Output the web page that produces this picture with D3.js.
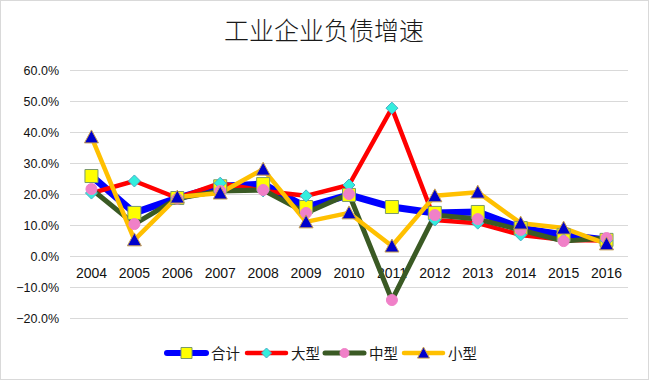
<!DOCTYPE html>
<html><head><meta charset="utf-8">
<script src="https://cdn.jsdelivr.net/npm/d3@7"></script>
<style>
html,body{margin:0;padding:0;background:#fff;}
svg{display:block;}
</style></head>
<body>
<svg id="chart" width="649" height="380"></svg>
<script>
const title = "工业企业负债增速";
const years = ["2004","2005","2006","2007","2008","2009","2010","2011","2012","2013","2014","2015","2016"];
const yTicks = [-0.2,-0.1,0,0.1,0.2,0.3,0.4,0.5,0.6];
const seriesNames = ["合计","大型","中型","小型"];
const total  = [0.258,0.139,0.187,0.225,0.232,0.158,0.197,0.158,0.139,0.142,0.090,0.068,0.052];
const large  = [0.203,0.242,0.187,0.235,0.210,0.194,0.229,0.477,0.116,0.106,0.068,0.052,0.050];
const medium = [0.216,0.103,0.185,0.210,0.213,0.139,0.200,-0.142,0.132,0.119,0.084,0.048,0.058];
const small  = [0.384,0.052,0.190,0.203,0.280,0.110,0.139,0.032,0.194,0.206,0.106,0.090,0.039];

const seriesValues = [total, large, medium, small];
const styles = [
  {color:"#0000ff", width:7, marker:"square", fill:"#ffff00", stroke:"#7a9a6a", size:13},
  {color:"#ff0000", width:4.5, marker:"diamond", fill:"#33eedd", stroke:"#4bacc6", size:12},
  {color:"#3a5a24", width:5, marker:"circle", fill:"#f080c8", stroke:"#f080c8", size:11},
  {color:"#ffc000", width:4.5, marker:"triangle", fill:"#0000cc", stroke:"#c8a050", size:14}
];

const svg = d3.select("#chart");
svg.append("rect").attr("x",0.5).attr("y",0.5).attr("width",648).attr("height",379)
  .attr("fill","#fff").attr("stroke","#d9d9d9");

const x = d3.scaleBand().domain(years).range([70,628]);
const y = d3.scaleLinear().domain([-0.2,0.6]).range([318,70]);
const cx = d => x(d) + x.bandwidth()/2;

svg.append("text").attr("x",324).attr("y",40).attr("text-anchor","middle")
  .attr("font-family","'Noto Sans CJK SC'").attr("font-weight",300).attr("font-size",25)
  .attr("fill","#1a1a1a").text(title);

// gridlines
svg.append("g").selectAll("line").data(yTicks).join("line")
  .attr("x1",70).attr("x2",628).attr("y1",d=>Math.round(y(d))+0.5).attr("y2",d=>Math.round(y(d))+0.5)
  .attr("stroke","#d9d9d9").attr("stroke-width",1);

// y axis labels
const yAxis = d3.axisLeft(y).tickValues(yTicks).tickSize(0).tickPadding(0).tickFormat(d3.format(".1%"));
const gy = svg.append("g").attr("transform","translate(59,0)").call(yAxis);
gy.select(".domain").remove();
gy.selectAll("text").attr("font-family","'Liberation Sans',Arial,sans-serif").attr("font-size",12.5).attr("fill","#111");

// x axis labels (at zero line)
const xAxis = d3.axisBottom(x).tickSize(0).tickPadding(0);
const gx = svg.append("g").attr("transform",`translate(0,${y(0)+12})`).call(xAxis);
gx.select(".domain").remove();
gx.selectAll("text").attr("font-family","'Liberation Sans',Arial,sans-serif").attr("font-size",14).attr("fill","#111");

function markerPath(type, s){
  const h = s/2;
  if(type==="square") return `M${-h},${-h}H${h}V${h}H${-h}Z`;
  if(type==="diamond") return `M0,${-h}L${h},0L0,${h}L${-h},0Z`;
  if(type==="triangle") return `M0,${-h}L${h},${h*0.85}L${-h},${h*0.85}Z`;
  return d3.symbol(d3.symbolCircle, Math.PI*h*h)();
}

const line = d3.line().x((d,i)=>cx(years[i])).y(d=>y(d));
seriesValues.forEach((vals,k)=>{
  svg.append("path").datum(vals).attr("d",line).attr("fill","none")
    .attr("stroke",styles[k].color).attr("stroke-width",styles[k].width)
    .attr("stroke-linejoin","round").attr("stroke-linecap","round");
});
seriesValues.forEach((vals,k)=>{
  const st = styles[k];
  svg.append("g").selectAll("path").data(vals).join("path")
    .attr("transform",(d,i)=>`translate(${cx(years[i])},${y(d)})`)
    .attr("d",markerPath(st.marker, st.size))
    .attr("fill",st.fill).attr("stroke",st.stroke).attr("stroke-width",1);
});

// legend
const legendX = [167,247,325,404];
const leg = svg.append("g");
seriesNames.forEach((name,k)=>{
  const st = styles[k];
  const g = leg.append("g").attr("transform",`translate(${legendX[k]},353)`);
  g.append("line").attr("x1",0).attr("x2",39).attr("y1",0).attr("y2",0)
    .attr("stroke",st.color).attr("stroke-width",Math.min(st.width,6)).attr("stroke-linecap","round");
  g.append("path").attr("transform","translate(19.5,0)").attr("d",markerPath(st.marker, st.size-2))
    .attr("fill",st.fill).attr("stroke",st.stroke).attr("stroke-width",1);
  g.append("text").attr("x",44).attr("y",5.5).attr("font-family","'Noto Sans CJK SC'")
    .attr("font-size",14.5).attr("fill","#1a1a1a").text(name);
});
</script>
</body></html>
